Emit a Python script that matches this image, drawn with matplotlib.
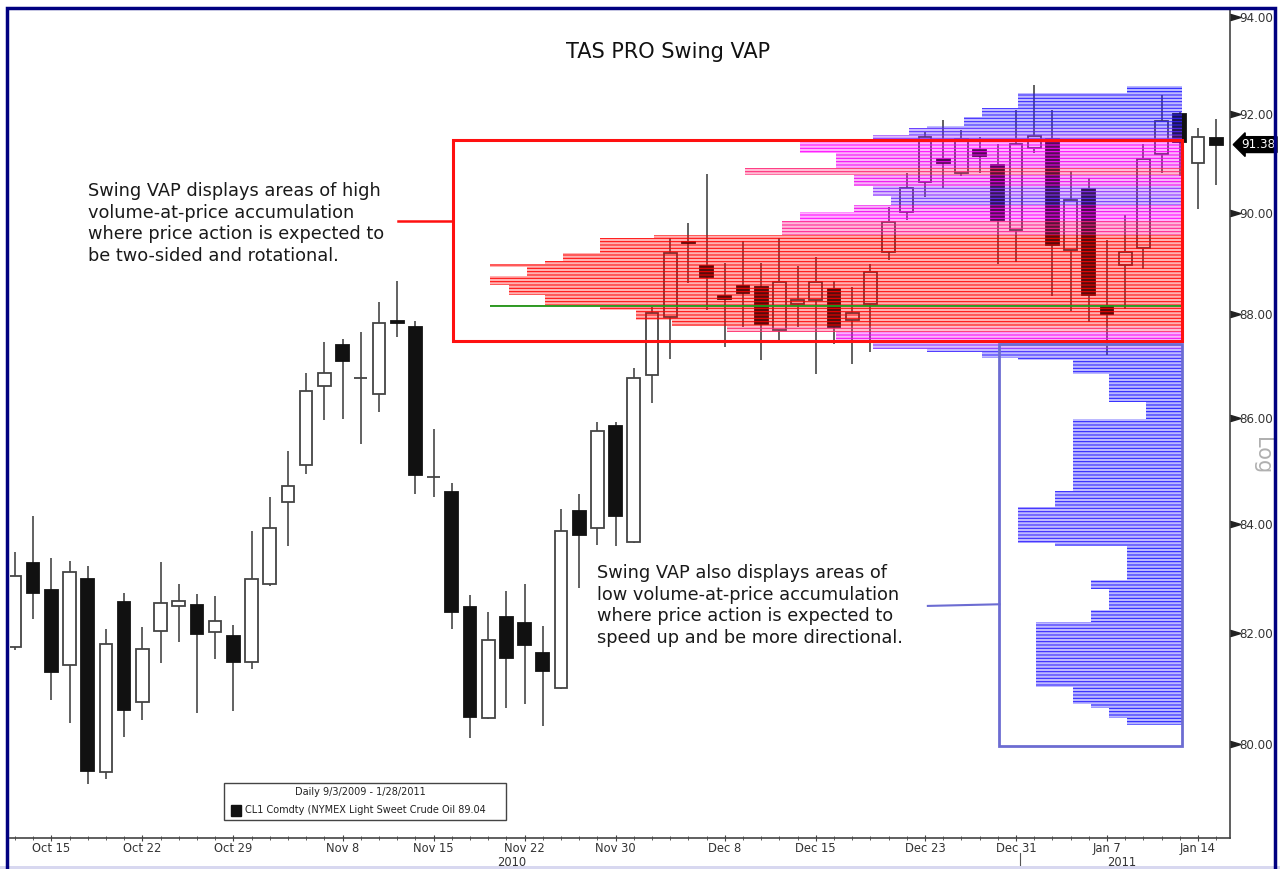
import matplotlib
matplotlib.use('Agg')
import matplotlib.pyplot as plt
from matplotlib.patches import Rectangle
from matplotlib.colors import LinearSegmentedColormap
from matplotlib.ticker import FixedLocator, FormatStrFormatter, NullLocator

# Velas diarias CL1 (un índice por día hábil, 13-oct-2010 a 17-ene-2011)
aperturas = [81.74, 83.27, 82.79, 81.42, 82.99, 79.51, 82.57, 80.75, 82.04, 82.49,
             82.51, 82.02, 81.95, 81.47, 82.90, 84.41, 85.11, 86.62, 87.41, 86.77,
             86.47, 87.88, 87.75, 84.89, 84.61, 82.47, 80.47, 82.28, 82.18, 81.63,
             81.00, 84.24, 83.92, 85.85, 83.67, 86.83, 87.95, 89.43, 88.95, 88.37,
             88.56, 88.53, 87.69, 88.21, 88.29, 88.50, 87.89, 88.21, 89.23, 90.02,
             90.62, 91.09, 90.80, 91.28, 90.97, 89.67, 91.31, 91.50, 89.27, 90.48,
             88.16, 88.98, 89.31, 91.19, 92.01, 91.00, 91.52]
maximos = [83.48, 84.15, 83.37, 83.32, 83.23, 82.07, 82.73, 82.11, 83.30, 82.90,
           82.70, 82.67, 82.14, 83.88, 84.50, 85.37, 86.86, 87.46, 87.52, 87.65,
           88.24, 88.66, 87.87, 85.80, 84.77, 82.69, 82.38, 82.77, 82.90, 82.12,
           84.28, 84.56, 85.93, 85.93, 86.97, 88.15, 89.50, 89.80, 90.78, 89.02,
           89.45, 89.02, 89.51, 88.96, 89.12, 88.66, 88.53, 88.99, 90.13, 90.80,
           91.64, 91.89, 91.67, 91.53, 91.39, 92.08, 92.60, 92.08, 90.85, 90.71,
           89.47, 89.97, 91.39, 92.39, 92.05, 91.71, 91.91]
minimos = [81.69, 82.25, 80.78, 80.37, 79.29, 79.38, 80.13, 80.43, 81.46, 81.83,
           80.56, 81.52, 80.59, 81.34, 82.85, 83.59, 84.94, 85.97, 85.99, 85.50,
           86.12, 87.57, 84.56, 84.51, 82.07, 80.10, 80.45, 80.64, 80.71, 80.32,
           80.98, 82.81, 83.61, 83.59, 83.65, 86.28, 87.14, 88.61, 88.08, 87.37,
           87.75, 87.12, 87.44, 87.75, 86.84, 87.42, 87.03, 87.28, 89.07, 89.86,
           90.33, 90.51, 90.75, 90.80, 89.00, 89.03, 91.20, 88.36, 88.06, 87.85,
           87.22, 88.10, 88.90, 90.80, 90.75, 90.09, 90.56]
cierres = [83.04, 82.72, 81.29, 83.11, 79.53, 81.80, 80.60, 81.71, 82.55, 82.58,
           81.98, 82.21, 81.47, 82.98, 83.92, 84.72, 86.52, 86.87, 87.10, 86.77,
           87.83, 87.84, 84.92, 84.89, 82.38, 80.49, 81.87, 81.55, 81.77, 81.30,
           83.88, 83.80, 85.76, 84.15, 86.76, 88.02, 89.20, 89.40, 88.73, 88.30,
           88.43, 87.82, 88.63, 88.29, 88.63, 87.75, 88.02, 88.83, 89.83, 90.50,
           91.53, 91.01, 91.49, 91.14, 89.87, 91.39, 91.56, 89.37, 90.27, 88.39,
           88.01, 89.23, 91.09, 91.86, 91.43, 91.53, 91.38]

indices_fechas = [2, 7, 12, 18, 23, 28, 33, 39, 44, 50, 55, 60, 65]
etiquetas_fechas = ['Oct 15', 'Oct 22', 'Oct 29', 'Nov 8', 'Nov 15', 'Nov 22', 'Nov 30',
                    'Dec 8', 'Dec 15', 'Dec 23', 'Dec 31', 'Jan 7', 'Jan 14']
etiquetas_anios = ['2010', '2011']
posicion_anios = [27.3, 60.8]

# Perfil Swing VAP: bordes de precio (de arriba abajo) y volumen relativo de cada tramo
vap_bordes = [92.57, 92.44, 92.13, 91.95, 91.75, 91.71, 91.58, 91.50, 91.21, 90.91,
              90.77, 90.54, 90.34, 90.17, 90.03, 89.84, 89.56, 89.50, 89.20, 89.06,
              89.00, 88.94, 88.75, 88.58, 88.39, 88.19, 88.14, 88.08, 87.90, 87.78,
              87.66, 87.50, 87.33, 87.28, 87.15, 87.11, 86.84, 86.30, 85.99, 84.62,
              84.32, 83.65, 83.60, 82.96, 82.80, 82.41, 82.19, 81.02, 80.71, 80.65,
              80.47, 80.34]
vap_volumen = [3, 9, 11, 12, 14, 15, 17, 21, 19, 24, 18, 17, 16, 18, 21, 22, 29, 32,
               34, 35, 38, 36, 38, 37, 35, 38, 32, 30, 28, 25, 19, 17, 14, 11, 9, 6,
               4, 2, 6, 7, 9, 7, 3, 5, 4, 5, 8, 6, 5, 4, 3]
precio_poc = 88.17

precios_eje = [80, 82, 84, 86, 88, 90, 92, 94]
ultimo_precio = 91.38

TEXTO_ALTO = ('Swing VAP displays areas of high\nvolume-at-price accumulation\n'
              'where price action is expected to\nbe two-sided and rotational.')
TEXTO_BAJO = ('Swing VAP also displays areas of\nlow volume-at-price accumulation\n'
              'where price action is expected to\nspeed up and be more directional.')

W, H = 1280, 869
plt.rcParams['font.family'] = ['DejaVu Sans']
plt.rcParams['hatch.linewidth'] = 0.75


def fx(px):
    return px / W


def fy(py):
    return 1 - py / H


fig = plt.figure(figsize=(W / 100, H / 100), dpi=100)
ax = fig.add_axes([fx(10), fy(838), fx(1230) - fx(10), fy(10) - fy(838)])
ax.set_yscale('log')

# Velas
for i, (o, h, l, c) in enumerate(zip(aperturas, maximos, minimos, cierres)):
    ax.vlines(i, l, h, color='#555555', lw=1.3, zorder=2)
    sube = c >= o
    ax.add_patch(Rectangle((i - 0.35, min(o, c)), 0.7, abs(c - o),
                           facecolor='white' if sube else '#111111',
                           edgecolor='#444444' if sube else '#111111',
                           lw=1.3, zorder=3))

# Perfil de volumen por precio, anclado a la derecha
borde_der = 64.12
cmap = LinearSegmentedColormap.from_list('vap', [
    (0.0, '#1010ff'), (14 / 38, '#3a22ff'), (17 / 38, '#8a2cff'), (18 / 38, '#ee00ee'),
    (21 / 38, '#ff00ff'), (22 / 38, '#ff1a8c'), (26 / 38, '#ff2a5a'), (28 / 38, '#ff0000'),
    (1.0, '#ff0000')])
for alto, bajo, vol in zip(vap_bordes[:-1], vap_bordes[1:], vap_volumen):
    r, g, b, _ = cmap(vol / 38)
    ax.barh(bajo, -vol, height=alto - bajo, left=borde_der, align='edge',
            facecolor=(r, g, b, 0.3), edgecolor=(r, g, b, 0.95), linewidth=0,
            hatch='-----', zorder=4)
ax.hlines(precio_poc, borde_der - 38, borde_der, color='#1e9e1e', lw=1.3, zorder=5)

# Recuadros y líneas de llamada
rojo = '#ff1010'
azul = '#6c6cd2'
ax.add_patch(Rectangle((24.07, 87.48), borde_der - 24.07, 91.47 - 87.48,
                       fill=False, ec=rojo, lw=2.2, zorder=6))
ax.add_patch(Rectangle((54.09, 79.96), borde_der - 54.09, 87.42 - 79.96,
                       fill=False, ec=azul, lw=2.0, zorder=6))
ax.plot([21.04, 24.07], [89.84, 89.84], color=rojo, lw=1.8, zorder=6)
ax.plot([50.16, 54.09], [82.49, 82.52], color=azul, lw=1.5, zorder=6)

ax.text(4.0, 90.62, TEXTO_ALTO, fontsize=12.8, color='#1a1a1a', va='top', ha='left',
        linespacing=1.25, zorder=7)
ax.text(32.0, 83.26, TEXTO_BAJO, fontsize=12.8, color='#1a1a1a', va='top', ha='left',
        linespacing=1.25, zorder=7)

# Ejes
ax.set_xlim(-0.27, 66.76)
ax.set_ylim(78.35, 94.15)
ax.yaxis.tick_right()
ax.yaxis.set_major_locator(FixedLocator(precios_eje))
ax.yaxis.set_minor_locator(NullLocator())
ax.yaxis.set_major_formatter(FormatStrFormatter('%.2f'))
ax.tick_params(axis='y', length=0, pad=7, labelsize=8.6, labelcolor='#333333')
ax.plot([1.0] * len(precios_eje), precios_eje, transform=ax.get_yaxis_transform(),
        marker=[(0, 0.3), (1, 0), (0, -0.3)], markersize=15, color='#222222',
        linestyle='none', clip_on=False, zorder=8)

ax.set_xticks(indices_fechas)
ax.set_xticklabels(etiquetas_fechas)
ax.set_xticks(range(len(cierres)), minor=True)
ax.tick_params(axis='x', which='major', length=5, direction='inout', labelsize=8.3,
               labelcolor='#333333', color='#444444', pad=0.5)
ax.tick_params(axis='x', which='minor', length=3, direction='inout', color='#444444')
for etiqueta, pos in zip(etiquetas_anios, posicion_anios):
    ax.text(pos, -0.0295, etiqueta, transform=ax.get_xaxis_transform(), ha='center',
            va='center', fontsize=8.3, color='#333333')
ax.plot([55.2, 55.2], [-0.018, -0.045], transform=ax.get_xaxis_transform(),
        color='#555555', lw=0.8, clip_on=False)

for lado in ['left', 'top']:
    ax.spines[lado].set_visible(False)
for lado in ['right', 'bottom']:
    ax.spines[lado].set_color('#444444')
    ax.spines[lado].set_linewidth(1.2)

# Último precio y marca de escala logarítmica
ax.text(1.0095, ultimo_precio, f'{ultimo_precio:.2f}', transform=ax.get_yaxis_transform(),
        ha='left', va='center', color='white', fontsize=8.6, clip_on=False, zorder=9,
        bbox=dict(boxstyle='larrow,pad=0.12', fc='black', ec='black'))
fig.text(fx(1262), fy(456), 'Log', rotation=270, color='#b0b0b0', fontsize=15,
         ha='center', va='center')

fig.text(fx(668), fy(52), 'TAS PRO Swing VAP', ha='center', va='center', fontsize=15,
         color='#111111')

# Leyenda
fig.add_artist(Rectangle((fx(224), fy(820)), fx(282), 37 / H, transform=fig.transFigure,
                         fc='white', ec='#444444', lw=1, zorder=10))
fig.text(fx(360), fy(792), 'Daily 9/3/2009 - 1/28/2011', ha='center', va='center',
         fontsize=7, color='#222222', zorder=11)
fig.add_artist(Rectangle((fx(231), fy(816)), fx(10), 11 / H, transform=fig.transFigure,
                         fc='#111111', ec='#111111', zorder=11))
fig.text(fx(245), fy(810), 'CL1 Comdty (NYMEX Light Sweet Crude Oil 89.04', ha='left',
         va='center', fontsize=7, color='#222222', zorder=11)

# Marco exterior
fig.add_artist(Rectangle((fx(7), -0.01), fx(1275 - 7), fy(8) + 0.01,
                         transform=fig.transFigure, fill=False, ec='#000080', lw=2.5,
                         zorder=12))
fig.add_artist(Rectangle((0, 0), 1, 3 / H, transform=fig.transFigure,
                         fc='#d8d8f0', ec='none'))

fig.savefig('out.png', dpi=100)
